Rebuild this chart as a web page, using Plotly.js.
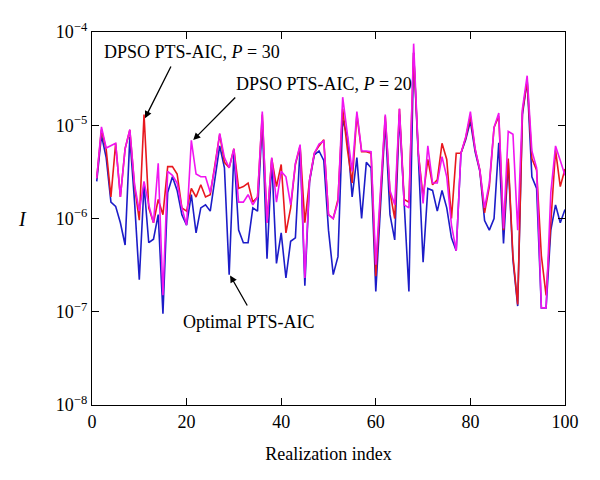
<!DOCTYPE html>
<html>
<head>
<meta charset="utf-8">
<script src="https://cdn.plot.ly/plotly-3.0.1.min.js"></script>
<style>html,body{margin:0;padding:0;background:#fff;}#chart{width:600px;height:480px;}</style>
</head>
<body>
<div id="chart"></div>
<script>
// Realization index 1..100
const realization = Array.from({length: 100}, (_, k) => k + 1);

// DPSO PTS-AIC, P = 30 (red)
const dpsoP30 = [
  2.7e-6, 9.0e-6, 5.5e-6, 1.7e-6, 6.4e-6, 1.7e-6, 5.6e-6, 8.9e-6, 2.2e-6, 9.6e-7,
  1.3e-5, 1.3e-6, 9.0e-7, 1.6e-6, 1.1e-6, 3.6e-6, 3.6e-6, 3.0e-6, 1.3e-6, 1.2e-6,
  2.1e-6, 1.7e-6, 2.3e-6, 1.7e-6, 1.8e-6, 3.6e-6, 8.0e-6, 4.0e-6, 3.5e-6, 5.6e-6,
  2.1e-6, 2.2e-6, 2.4e-6, 1.5e-6, 1.7e-6, 1.3e-5, 9.0e-7, 4.4e-6, 2.2e-6, 3.8e-6,
  7.0e-7, 1.3e-6, 3.8e-6, 6.0e-6, 9.0e-7, 2.6e-6, 5.0e-6, 6.0e-6, 7.0e-6, 1.1e-6,
  1.0e-6, 1.6e-6, 1.5e-5, 5.5e-6, 2.4e-6, 1.3e-5, 5.2e-6, 5.2e-6, 5.0e-6, 2.4e-7,
  2.0e-6, 1.25e-5, 1.9e-6, 1.0e-6, 1.5e-5, 1.6e-6, 1.5e-6, 6.0e-5, 5.0e-6, 1.7e-6,
  4.3e-6, 2.3e-6, 2.6e-6, 6.4e-6, 4.3e-6, 1.0e-6, 5.0e-6, 5.0e-6, 7.3e-6, 1.25e-5,
  5.5e-6, 3.3e-6, 1.15e-6, 2.2e-6, 9.5e-6, 1.25e-5, 7.5e-7, 4.4e-6, 3.9e-7, 1.2e-7,
  1.4e-5, 3.0e-5, 4.4e-6, 3.3e-6, 4.0e-7, 1.5e-7, 9.0e-7, 5.4e-6, 2.2e-6, 3.4e-6
];

// DPSO PTS-AIC, P = 20 (magenta)
const dpsoP20 = [
  2.7e-6, 9.6e-6, 5.7e-6, 6.0e-6, 6.4e-6, 1.7e-6, 5.6e-6, 9.0e-6, 2.3e-6, 1.2e-6,
  2.5e-6, 1.4e-6, 9.0e-7, 3.9e-6, 1.5e-7, 3.2e-6, 2.9e-6, 2.4e-6, 1.3e-6, 8.5e-7,
  6.9e-6, 3.0e-6, 2.8e-6, 2.8e-6, 1.9e-6, 3.6e-6, 8.2e-6, 4.5e-6, 3.5e-6, 5.6e-6,
  1.5e-6, 1.5e-6, 1.8e-6, 1.4e-6, 1.7e-6, 1.4e-5, 9.0e-7, 4.5e-6, 1.5e-6, 3.2e-6,
  2.8e-6, 1.4e-6, 3.9e-6, 6.2e-6, 2.3e-7, 2.6e-6, 5.0e-6, 6.3e-6, 6.8e-6, 1.1e-6,
  1.0e-6, 1.5e-6, 2.0e-5, 8.0e-6, 3.2e-6, 1.4e-5, 5.3e-6, 5.3e-6, 5.2e-6, 3.2e-7,
  2.0e-6, 1.3e-5, 2.0e-6, 1.4e-6, 1.5e-5, 1.4e-6, 1.3e-6, 7.5e-5, 5.0e-6, 1.45e-6,
  6.0e-6, 2.4e-6, 2.4e-6, 4.6e-6, 2.8e-6, 8.5e-7, 4.5e-7, 5.0e-6, 7.5e-6, 1.4e-5,
  5.6e-6, 3.3e-6, 1.3e-6, 2.4e-6, 9.5e-6, 1.35e-5, 7.8e-7, 8.6e-6, 8.0e-6, 7.5e-7,
  1.5e-5, 3.4e-5, 5.3e-6, 3.5e-6, 1.1e-7, 1.1e-7, 1.9e-6, 6.0e-6, 4.2e-6, 2.9e-6
];

// Optimal PTS-AIC (blue)
const optimal = [
  2.5e-6, 7.8e-6, 4.5e-6, 1.5e-6, 1.35e-6, 9.0e-7, 5.2e-7, 7.5e-6, 1.5e-6, 2.2e-7,
  2.3e-6, 5.5e-7, 6.0e-7, 1.1e-6, 9.5e-8, 1.9e-6, 2.8e-6, 2.0e-6, 1.1e-6, 8.5e-7,
  1.8e-6, 7.0e-7, 1.3e-6, 1.4e-6, 1.2e-6, 2.8e-6, 6.0e-6, 3.5e-6, 2.5e-7, 5.2e-6,
  7.5e-7, 5.5e-7, 5.5e-7, 1.3e-6, 1.2e-6, 1.1e-5, 3.7e-7, 4.2e-6, 3.3e-7, 7.0e-7,
  2.3e-7, 5.7e-7, 6.2e-7, 5.8e-6, 1.9e-7, 2.5e-6, 4.8e-6, 5.3e-6, 4.2e-6, 7.5e-7,
  2.5e-7, 3.9e-7, 1.15e-5, 7.5e-6, 1.7e-6, 4.5e-6, 1.0e-6, 4.0e-6, 3.5e-6, 1.65e-7,
  1.6e-6, 1.1e-5, 1.1e-6, 5.9e-7, 1.3e-5, 1.3e-6, 1.65e-7, 6.0e-5, 4.0e-6, 3.4e-7,
  2.1e-6, 2.0e-6, 1.2e-6, 2.0e-6, 1.3e-6, 6.2e-7, 4.5e-7, 5.0e-6, 7.0e-6, 1.1e-5,
  5.2e-6, 3.2e-6, 9.5e-7, 7.5e-7, 1.0e-6, 6.5e-6, 5.4e-7, 4.0e-6, 3.6e-7, 1.15e-7,
  1.3e-5, 3.0e-5, 2.8e-6, 2.1e-6, 1.1e-7, 1.1e-7, 7.5e-7, 1.4e-6, 9.0e-7, 1.25e-6
];

const yTickVals = [1e-8, 1e-7, 1e-6, 1e-5, 1e-4];
const yTickText = ['10<sup>−8</sup>', '10<sup>−7</sup>', '10<sup>−6</sup>', '10<sup>−5</sup>', '10<sup>−4</sup>'];
const xTickVals = [0, 20, 40, 60, 80, 100];
const decades = [1e-8, 1e-7, 1e-6, 1e-5];
const minorMultipliers = [2, 3, 4, 5, 6, 7, 8, 9];
const yMinorVals = decades.flatMap(d => minorMultipliers.map(m => m * d));

const FONT = 'Liberation Serif, Times New Roman, serif';

const traces = [
  {x: realization, y: optimal, type: 'scatter', mode: 'lines', name: 'Optimal PTS-AIC',
   line: {color: '#1c1cc8', width: 1.6}},
  {x: realization, y: dpsoP30, type: 'scatter', mode: 'lines', name: 'DPSO PTS-AIC, P = 30',
   line: {color: '#e8181e', width: 1.6}},
  {x: realization, y: dpsoP20, type: 'scatter', mode: 'lines', name: 'DPSO PTS-AIC, P = 20',
   line: {color: '#f015f0', width: 1.6}}
];

// minor log ticks on left and right frame edges (log-axis shapes use log10 coordinates)
const PLOT_W = 600 - 92 - 35;
const minorLen = 3.5 / PLOT_W;
const minorShapes = [];
yMinorVals.forEach(v => {
  const ly = Math.log10(v);
  minorShapes.push({type: 'line', xref: 'paper', yref: 'y', x0: 0, x1: minorLen, y0: ly, y1: ly,
    line: {color: '#000', width: 1}});
  minorShapes.push({type: 'line', xref: 'paper', yref: 'y', x0: 1 - minorLen, x1: 1, y0: ly, y1: ly,
    line: {color: '#000', width: 1}});
});

const arrowCommon = {showarrow: true, text: '', arrowhead: 2, arrowsize: 1.1, arrowwidth: 1.3,
  arrowcolor: '#000', xref: 'x', yref: 'y', axref: 'x', ayref: 'y', standoff: 0};

const layout = {
  width: 600, height: 480,
  margin: {l: 92, r: 35, t: 32, b: 75},
  paper_bgcolor: '#fff', plot_bgcolor: '#fff',
  showlegend: false,
  font: {family: FONT, size: 18, color: '#000'},
  xaxis: {
    range: [0, 100], tickmode: 'array', tickvals: xTickVals,
    ticks: 'inside', ticklen: 7, tickwidth: 1, tickcolor: '#000',
    showline: true, linecolor: '#000', linewidth: 1.2, mirror: 'allticks',
    showgrid: false, zeroline: false,
    tickfont: {family: FONT, size: 18},
    title: {text: 'Realization index', font: {family: FONT, size: 18}, standoff: 16}
  },
  yaxis: {
    type: 'log', range: [-8, -4], tickmode: 'array', tickvals: yTickVals, ticktext: yTickText,
    ticks: 'inside', ticklen: 7, tickwidth: 1, tickcolor: '#000',
    showline: true, linecolor: '#000', linewidth: 1.2, mirror: 'allticks',
    showgrid: false, zeroline: false,
    tickfont: {family: FONT, size: 18}
  },
  shapes: minorShapes,
  annotations: [
    {text: 'DPSO PTS-AIC, <i>P</i> = 30', xref: 'paper', yref: 'paper', x: 0.2104, y: 0.9477,
     xanchor: 'center', yanchor: 'middle', showarrow: false, font: {family: FONT, size: 18}},
    {text: 'DPSO PTS-AIC, <i>P</i> = 20', xref: 'paper', yref: 'paper', x: 0.4905, y: 0.8606,
     xanchor: 'center', yanchor: 'middle', showarrow: false, font: {family: FONT, size: 18}},
    {text: 'Optimal PTS-AIC', xref: 'paper', yref: 'paper', x: 0.3319, y: 0.2225,
     xanchor: 'center', yanchor: 'middle', showarrow: false, font: {family: FONT, size: 18}},
    {text: '<i>I</i>', xref: 'paper', yref: 'paper', x: -0.146, y: 0.4987,
     xanchor: 'center', yanchor: 'middle', showarrow: false, font: {family: FONT, size: 20}},
    Object.assign({}, arrowCommon, {x: 11.2, y: -4.925, ax: 16.85, ay: -4.354}),
    Object.assign({}, arrowCommon, {x: 21.4, y: -5.158, ax: 30.6, ay: -4.686}),
    Object.assign({}, arrowCommon, {x: 29.2, y: -6.61, ax: 33.0, ay: -6.949})
  ]
};

Plotly.newPlot('chart', traces, layout, {staticPlot: true, displayModeBar: false});
</script>
</body>
</html>
